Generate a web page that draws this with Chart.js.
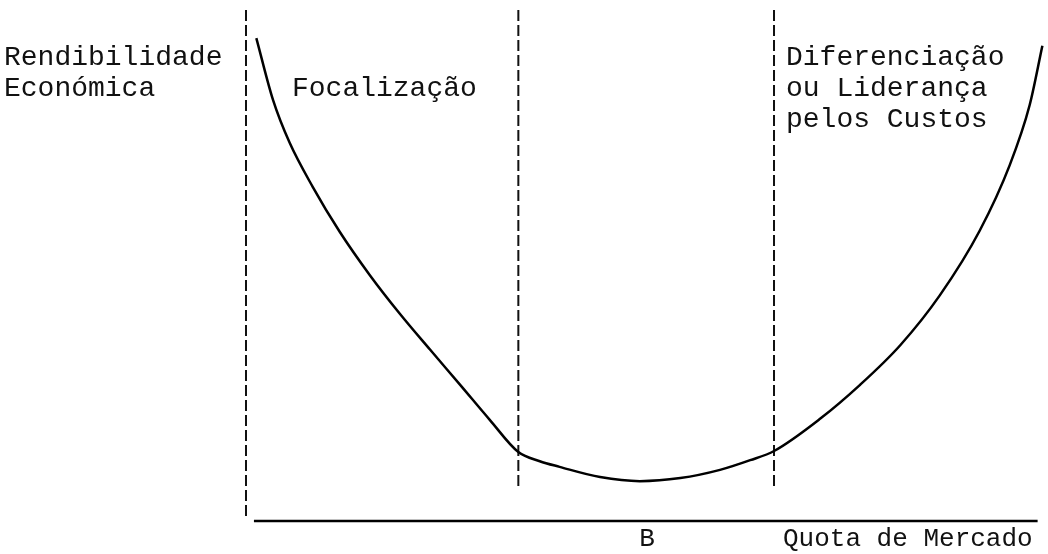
<!DOCTYPE html>
<html>
<head>
<meta charset="utf-8">
<script src="https://cdn.jsdelivr.net/npm/chart.js@4/dist/chart.umd.min.js"></script>
<style>
  html, body { margin: 0; padding: 0; background: #fff; }
  canvas { display: block; }
</style>
</head>
<body>
<canvas id="uChart" width="1048" height="554"></canvas>
<script>
// Quota de mercado (x) vs rendibilidade económica (y), both on a 0-100 scale
const quota = [1.3, 3.4, 5.5, 8.4, 11.8, 15.6, 19.4, 23.2, 27.0, 30.7, 34.3, 37.0, 39.5, 44.6, 49.6, 54.7, 59.7, 63.5, 66.5, 72.3, 77.3, 82.4, 87.4, 92.4, 96.2, 98.7, 100.3];
const rendibilidade = [94.5, 82.4, 74.0, 65.4, 56.6, 48.1, 40.5, 33.5, 26.6, 19.8, 13.5, 11.7, 10.6, 8.6, 7.8, 8.4, 10.0, 11.9, 13.7, 20.0, 26.6, 34.4, 44.2, 56.8, 69.7, 81.4, 93.0];

// zone boundaries (dashed) and their vertical extent
const boundaryX = [0, 34.3, 66.5];
const boundaryBottom = [0.6, 6.7, 6.7];
const boundaryTop = 100;

// horizontal axis
const axisFrom = 1.0;
const axisTo = 99.7;

const minimoB = 50.5;

const FONT = '28px "Liberation Mono", "Courier New", monospace';
const FONT_AXIS = '26px "Liberation Mono", "Courier New", monospace';

const curve = quota.map((q, i) => ({ x: q, y: rendibilidade[i] }));

const boundarySets = boundaryX.map((bx, i) => ({
  data: [{ x: bx, y: boundaryTop }, { x: bx, y: boundaryBottom[i] }],
  borderColor: '#111',
  borderWidth: 2,
  borderDash: [11, 4],
  pointRadius: 0,
  showLine: true,
  tension: 0,
}));

// text labels drawn straight on the canvas
const labelsPlugin = {
  id: 'labels',
  afterDraw(chart) {
    const ctx = chart.ctx;
    const xs = chart.scales.x;
    ctx.save();
    ctx.fillStyle = '#111';
    ctx.font = FONT;
    ctx.textBaseline = 'middle';
    ctx.textAlign = 'left';
    ctx.fillText('Rendibilidade', 4, 58);
    ctx.fillText('Económica', 4, 89);
    ctx.fillText('Focalização', 292, 89);
    ctx.fillText('Diferenciação', 786, 58);
    ctx.fillText('ou Liderança', 786, 89);
    ctx.fillText('pelos Custos', 786, 120);
    ctx.font = FONT_AXIS;
    ctx.fillText('Quota de Mercado', 783, 539);
    ctx.textAlign = 'center';
    ctx.fillText('B', xs.getPixelForValue(minimoB), 539);
    ctx.restore();
  }
};

new Chart(document.getElementById('uChart').getContext('2d'), {
  type: 'scatter',
  data: {
    datasets: [
      {
        data: curve,
        borderColor: '#000',
        borderWidth: 2.5,
        pointRadius: 0,
        showLine: true,
        cubicInterpolationMode: 'monotone',
      },
      ...boundarySets,
      {
        data: [{ x: axisFrom, y: 0 }, { x: axisTo, y: 0 }],
        borderColor: '#000',
        borderWidth: 2.5,
        pointRadius: 0,
        showLine: true,
      },
    ],
  },
  options: {
    responsive: false,
    animation: false,
    clip: false,
    layout: { padding: { left: 246, right: 8, top: 10, bottom: 33 } },
    plugins: {
      legend: { display: false },
      tooltip: { enabled: false },
    },
    scales: {
      x: { type: 'linear', min: 0, max: 100, display: false },
      y: { type: 'linear', min: 0, max: 100, display: false },
    },
  },
  plugins: [labelsPlugin],
});
</script>
</body>
</html>
